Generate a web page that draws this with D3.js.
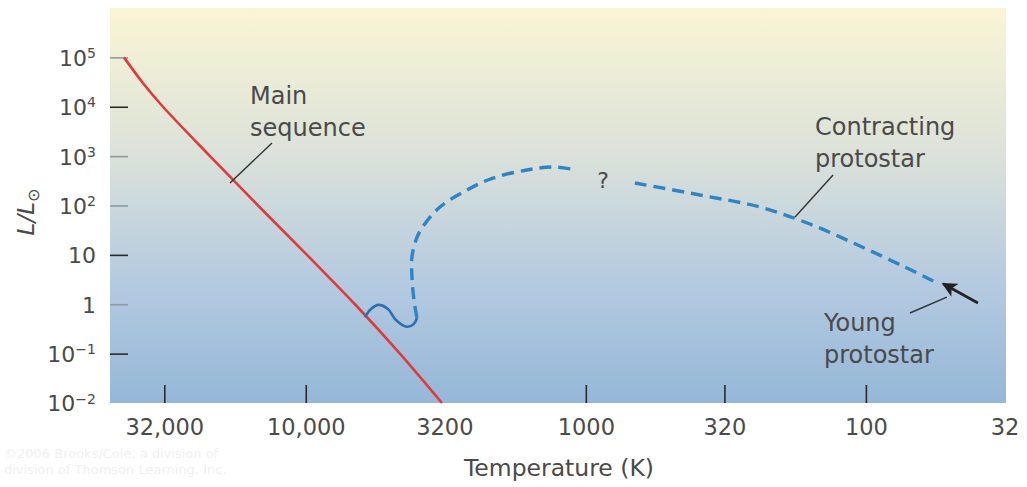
<html>
<head>
  <script src="https://d3js.org/d3.v7.min.js"></script>
  <style>
    body { margin: 0; background: #fff; }
    text { font-family: "DejaVu Sans", sans-serif; fill: #4a4a4a; }
  </style>
</head>
<body>
<script>
// tick values and labels
var xTicks = [32000, 10000, 3200, 1000, 320, 100, 32];
var xTickLabels = ["32,000", "10,000", "3200", "1000", "320", "100", "32"];
var yTicks = [1e5, 1e4, 1e3, 1e2, 10, 1, 0.1, 0.01];
var yTickBase = ["10", "10", "10", "10", "10", "1", "10", "10"];
var yTickExp = ["5", "4", "3", "2", "", "", "\u22121", "\u22122"];

// main sequence  [T (K), L/Lsun]
var mainSeq = [[44600, 1e5], [38100, 3e4], [32350, 1e4], [21980, 1e3],
               [14810, 100], [9900, 10], [6673, 1], [4610, 0.1], [3264, 0.01]];

// young star wiggle (solid)
var wiggle = [[6150, 0.55], [5850, 0.80], [5500, 0.97], [5088, 0.80],
              [4765, 0.48], [4352, 0.35], [4108, 0.40], [4009, 0.53]];

// collapse arc (dashed)
var arc = [[4009, 0.53], [4108, 1.22], [4176, 3.56], [4176, 9.06], [4041, 20],
           [3847, 35], [3318, 93], [2658, 206], [2146, 360], [1623, 524],
           [1311, 602], [1076, 524]];

// contracting protostar (dashed)
var contracting = [[668, 286], [391, 163], [239, 93], [158.5, 42.2], [105, 15.1],
                   [72.6, 5.68], [56, 2.75]];

// direction arrow: tail, tip
var arrowPts = [[39.8, 1.06], [53, 2.6]];

// leader lines
var leaders = [
  [[18650, 286], [13200, 1845]],
  [[179, 58.5], [131, 415]],
  [[69.6, 0.665], [51.4, 1.40]]
];

var W = 1027, H = 487;
var svg = d3.select("body").append("svg").attr("width", W).attr("height", H);

var x = d3.scaleLog().domain([50000, 31.6]).range([110, 1006]);
var y = d3.scaleLog().domain([0.01, 1e6]).range([403, 8]);

var defs = svg.append("defs");
var grad = defs.append("linearGradient").attr("id", "bg")
  .attr("x1", 0).attr("y1", 0).attr("x2", 0).attr("y2", 1);
grad.append("stop").attr("offset", "0").attr("stop-color", "#faf5d4");
grad.append("stop").attr("offset", "0.35").attr("stop-color", "#dde3d9");
grad.append("stop").attr("offset", "0.7").attr("stop-color", "#b4cae0");
grad.append("stop").attr("offset", "1").attr("stop-color", "#95b7d8");

defs.append("marker").attr("id", "head")
  .attr("viewBox", "0 0 10 10").attr("refX", 9).attr("refY", 5)
  .attr("markerWidth", 22).attr("markerHeight", 15)
  .attr("markerUnits", "userSpaceOnUse").attr("orient", "auto")
  .append("path").attr("d", "M0,0 L10,5 L0,10 L2.5,5 Z").attr("fill", "#222");

svg.append("rect")
  .attr("x", x.range()[0]).attr("y", y.range()[1])
  .attr("width", x.range()[1] - x.range()[0])
  .attr("height", y.range()[0] - y.range()[1])
  .attr("fill", "url(#bg)");

// axes
var gy = svg.append("g").attr("transform", "translate(110,0)")
  .call(d3.axisLeft(y).tickValues(yTicks).tickSize(-18).tickPadding(14).tickFormat(""));
gy.select(".domain").remove();
gy.selectAll(".tick line")
  .attr("stroke", function(d, i) { return [1, 4, 6].indexOf(i) >= 0 ? "#2a2a2a" : "#8f9aa0"; })
  .attr("stroke-width", 1.6)
  .attr("opacity", function(d, i) { return i == 7 ? 0 : 1; });
gy.selectAll(".tick text").each(function(d, i) {
  var t = d3.select(this).attr("font-size", 22).attr("fill", null)
    .attr("font-family", null).attr("dy", "0.36em");
  t.append("tspan").text(yTickBase[i]);
  if (yTickExp[i]) t.append("tspan").attr("font-size", 14).attr("dy", "-0.55em").text(yTickExp[i]);
});

var gx = svg.append("g").attr("transform", "translate(0,403)")
  .call(d3.axisBottom(x).tickValues(xTicks).tickSize(-18).tickPadding(16)
    .tickFormat(function(d, i) { return xTickLabels[i]; }));
gx.select(".domain").remove();
gx.selectAll(".tick line").attr("stroke", "#2a2a2a").attr("stroke-width", 1.6)
  .attr("opacity", function(d, i) { return i == 2 || i == 6 ? 0 : 1; });
gx.selectAll(".tick text").attr("font-size", 22.5).attr("fill", null).attr("font-family", null);

// axis titles
svg.append("text").attr("x", 559).attr("y", 476).attr("text-anchor", "middle")
  .attr("font-size", 23.5).text("Temperature (K)");
var yl = svg.append("text").attr("transform", "translate(34,212) rotate(-90)")
  .attr("text-anchor", "middle").attr("font-size", 23);
yl.append("tspan").attr("font-style", "italic").text("L/L");
yl.append("tspan").attr("font-size", 16).attr("dy", "0.3em").text("\u2299");

// curves
var line = d3.line().x(function(d) { return x(d[0]); }).y(function(d) { return y(d[1]); })
  .curve(d3.curveCatmullRom);

svg.append("path").attr("d", line(mainSeq)).attr("fill", "none")
  .attr("stroke", "#e23a3a").attr("stroke-width", 2.6);
svg.append("path").attr("d", line(wiggle)).attr("fill", "none")
  .attr("stroke", "#2a6fb0").attr("stroke-width", 2.6);
svg.append("path").attr("d", line(arc)).attr("fill", "none")
  .attr("stroke", "#2f84c6").attr("stroke-width", 3.4).attr("stroke-dasharray", "12,7");
svg.append("path").attr("d", line(contracting)).attr("fill", "none")
  .attr("stroke", "#2f84c6").attr("stroke-width", 3.4).attr("stroke-dasharray", "12,7");

svg.append("line")
  .attr("x1", x(arrowPts[0][0])).attr("y1", y(arrowPts[0][1]))
  .attr("x2", x(arrowPts[1][0])).attr("y2", y(arrowPts[1][1]))
  .attr("stroke", "#222").attr("stroke-width", 2.6).attr("marker-end", "url(#head)");

svg.selectAll(".leader").data(leaders).enter().append("line")
  .attr("x1", function(d) { return x(d[0][0]); }).attr("y1", function(d) { return y(d[0][1]); })
  .attr("x2", function(d) { return x(d[1][0]); }).attr("y2", function(d) { return y(d[1][1]); })
  .attr("stroke", "#333").attr("stroke-width", 1.4);

// labels
function label(tx, ty, lines) {
  var t = svg.append("text").attr("x", tx).attr("y", ty).attr("font-size", 24);
  lines.forEach(function(s, i) {
    t.append("tspan").attr("x", tx).attr("dy", i ? 32 : 0).text(s);
  });
}
label(250, 104, ["Main", "sequence"]);
label(815, 135, ["Contracting", "protostar"]);
label(824, 331, ["Young", "protostar"]);
svg.append("text").attr("x", 603).attr("y", 188).attr("text-anchor", "middle")
  .attr("font-size", 22).text("?");

// faint credit
svg.append("text").attr("x", 4).attr("y", 458).attr("font-size", 13)
  .style("fill", "#f0f0f0").text("\u00a92006 Brooks/Cole, a division of");
svg.append("text").attr("x", 4).attr("y", 474).attr("font-size", 13)
  .style("fill", "#f0f0f0").text("division of Thomson Learning, Inc.");
</script>
</body>
</html>
